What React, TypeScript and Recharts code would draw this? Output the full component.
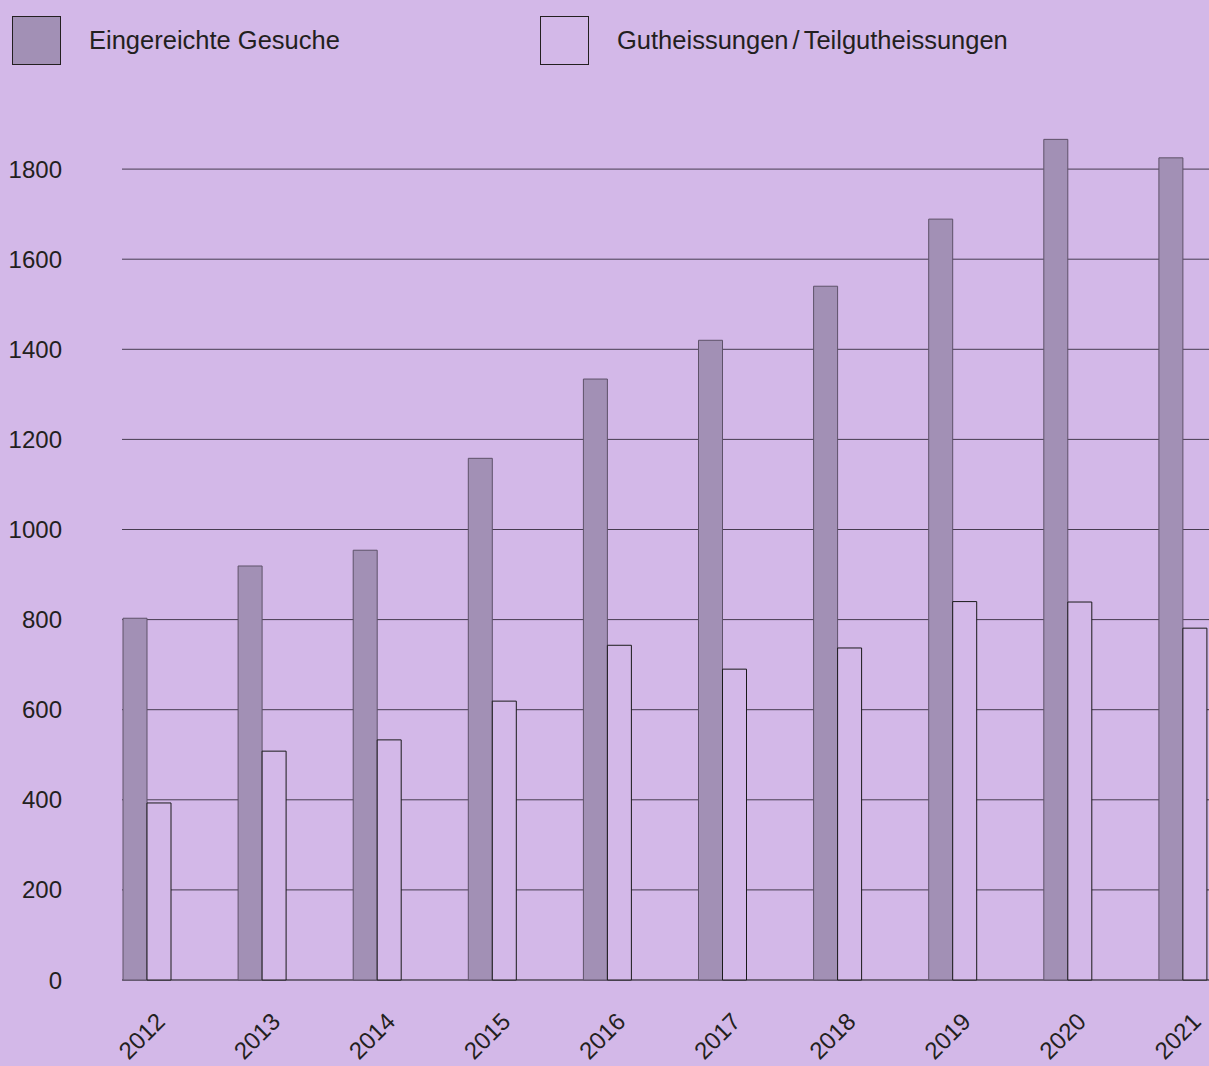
import { BarChart, Bar, XAxis, YAxis, CartesianGrid, Legend } from "recharts";

const years = ["2012", "2013", "2014", "2015", "2016", "2017", "2018", "2019", "2020", "2021"];
const eingereicht = [803, 919, 954, 1158, 1334, 1420, 1540, 1689, 1866, 1825];
const gutheissungen = [393, 508, 533, 619, 743, 690, 737, 840, 839, 781];
const yTicks = [0, 200, 400, 600, 800, 1000, 1200, 1400, 1600, 1800];

const data = years.map((year, i) => ({
  year,
  eingereicht: eingereicht[i],
  gutheissungen: gutheissungen[i],
}));

const BG = "#d3b8e8";
const DARK = "#a290b5";
const INK = "#231f20";
const FONT = "'Liberation Sans', Arial, Helvetica, sans-serif";

function YearTick(props: any) {
  const { x, y, payload } = props;
  const ax = x + 20;
  const ay = y + 43;
  return (
    <text
      x={ax}
      y={ay}
      textAnchor="end"
      fill={INK}
      fontSize={24}
      fontFamily={FONT}
      transform={`rotate(-45, ${ax}, ${ay})`}
    >
      {payload.value}
    </text>
  );
}

function LegendLabel({ text }: { text: string }) {
  const parts = text.split("/");
  if (parts.length < 2) return <>{text}</>;
  return (
    <>
      {parts[0]}
      <span style={{ margin: "0 4px" }}>/</span>
      {parts[1]}
    </>
  );
}

function LegendBox({ payload }: any) {
  const lefts = [12, 540];
  return (
    <div style={{ position: "relative", height: 79 }}>
      {(payload || []).map((p: any, i: number) => (
        <div key={p.value} style={{ position: "absolute", left: lefts[i], top: 16, display: "flex", alignItems: "center" }}>
          <div
            style={{
              width: 47,
              height: 47,
              background: i === 0 ? DARK : BG,
              border: "1px solid #231f20",
            }}
          />
          <span style={{ marginLeft: 28, fontSize: 25.5, fontFamily: FONT, color: INK }}>
            <LegendLabel text={p.value} />
          </span>
        </div>
      ))}
    </div>
  );
}

export default function App() {
  return (
    <div
      style={{
        position: "absolute",
        left: 0,
        top: 0,
        width: 1209,
        height: 1066,
        overflow: "hidden",
        background: BG,
      }}
    >
      <BarChart
        width={1240}
        height={1066}
        data={data}
        margin={{ top: 0, right: 0, bottom: 0, left: 0 }}
        barSize={24}
        barGap={0}
      >
        <CartesianGrid
          vertical={false}
          x={122}
          width={1100}
          horizontalValues={yTicks.filter((t) => t > 0)}
          stroke="#463c50"
          strokeWidth={1}
        />
        <CartesianGrid vertical={false} x={122} width={1100} horizontalValues={[0]} stroke="#111" strokeWidth={1.2} />
        <XAxis
          dataKey="year"
          height={86}
          axisLine={false}
          tickLine={false}
          tickSize={0}
          tickMargin={0}
          interval={0}
          tick={<YearTick />}
        />
        <YAxis
          width={89}
          domain={[0, 2000]}
          ticks={yTicks}
          axisLine={false}
          tickLine={false}
          tickSize={0}
          tickMargin={27}
          tick={{ fill: INK, fontSize: 24, fontFamily: FONT }}
        />
        <Legend
          verticalAlign="top"
          content={<LegendBox />}
          wrapperStyle={{ position: "absolute", top: 0, left: 0, width: 1209 }}
        />
        <Bar dataKey="eingereicht" name="Eingereichte Gesuche" fill={DARK} stroke="#5e5269" strokeWidth={1} isAnimationActive={false} />
        <Bar dataKey="gutheissungen" name="Gutheissungen/Teilgutheissungen" fill={BG} stroke="#1a1a1a" strokeWidth={1} isAnimationActive={false} />
      </BarChart>
    </div>
  );
}
